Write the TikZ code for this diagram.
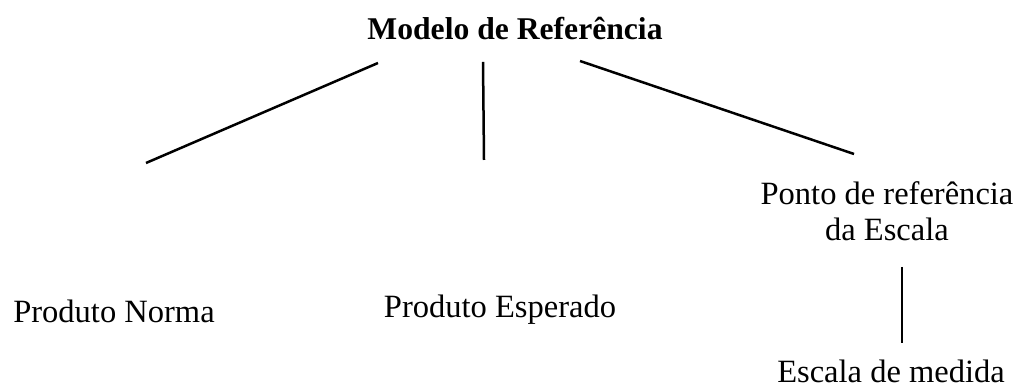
\documentclass[tikz,border=0pt]{standalone}
\usepackage{fontspec}
\setmainfont{Liberation Serif}

\begin{document}
\begin{tikzpicture}[rotulo/.style={inner sep=0, anchor=base, align=center, font=\fontsize{18.5}{20.5}\selectfont}, ramo/.style={line width=0.5mm}]
	%%%%% START %%%%%
	\useasboundingbox (0, 0) rectangle (20.32, 7.8);
	
	\node[rotulo, font=\fontsize{18}{20}\selectfont\bfseries] (modelo) at (10.3, 7.0) {Modelo de Referência};
	
	\node[rotulo] (norma) at (2.28, 1.34) {Produto Norma};
	\node[rotulo] (esperado) at (10.0, 1.44) {Produto Esperado};
	\node[rotulo] (ponto) at (17.74, 2.98) {Ponto de referência\\da Escala};
	\node[rotulo] (escala) at (17.82, 0.14) {Escala de medida};
	
	\coordinate (m1) at (7.56, 6.54);
	\coordinate (n1) at (2.92, 4.54);
	\coordinate (m2) at (9.66, 6.56);
	\coordinate (e1) at (9.68, 4.6);
	\coordinate (m3) at (11.6, 6.58);
	\coordinate (p1) at (17.08, 4.72);
	\coordinate (p2) at (18.04, 2.46);
	\coordinate (s1) at (18.04, 0.94);
	
	\draw[ramo] (m1) -- (n1);
	\draw[ramo] (m2) -- (e1);
	\draw[ramo] (m3) -- (p1);
	\draw[ramo] (p2) -- (s1);
	%%%%% END %%%%%
\end{tikzpicture}
\end{document}
